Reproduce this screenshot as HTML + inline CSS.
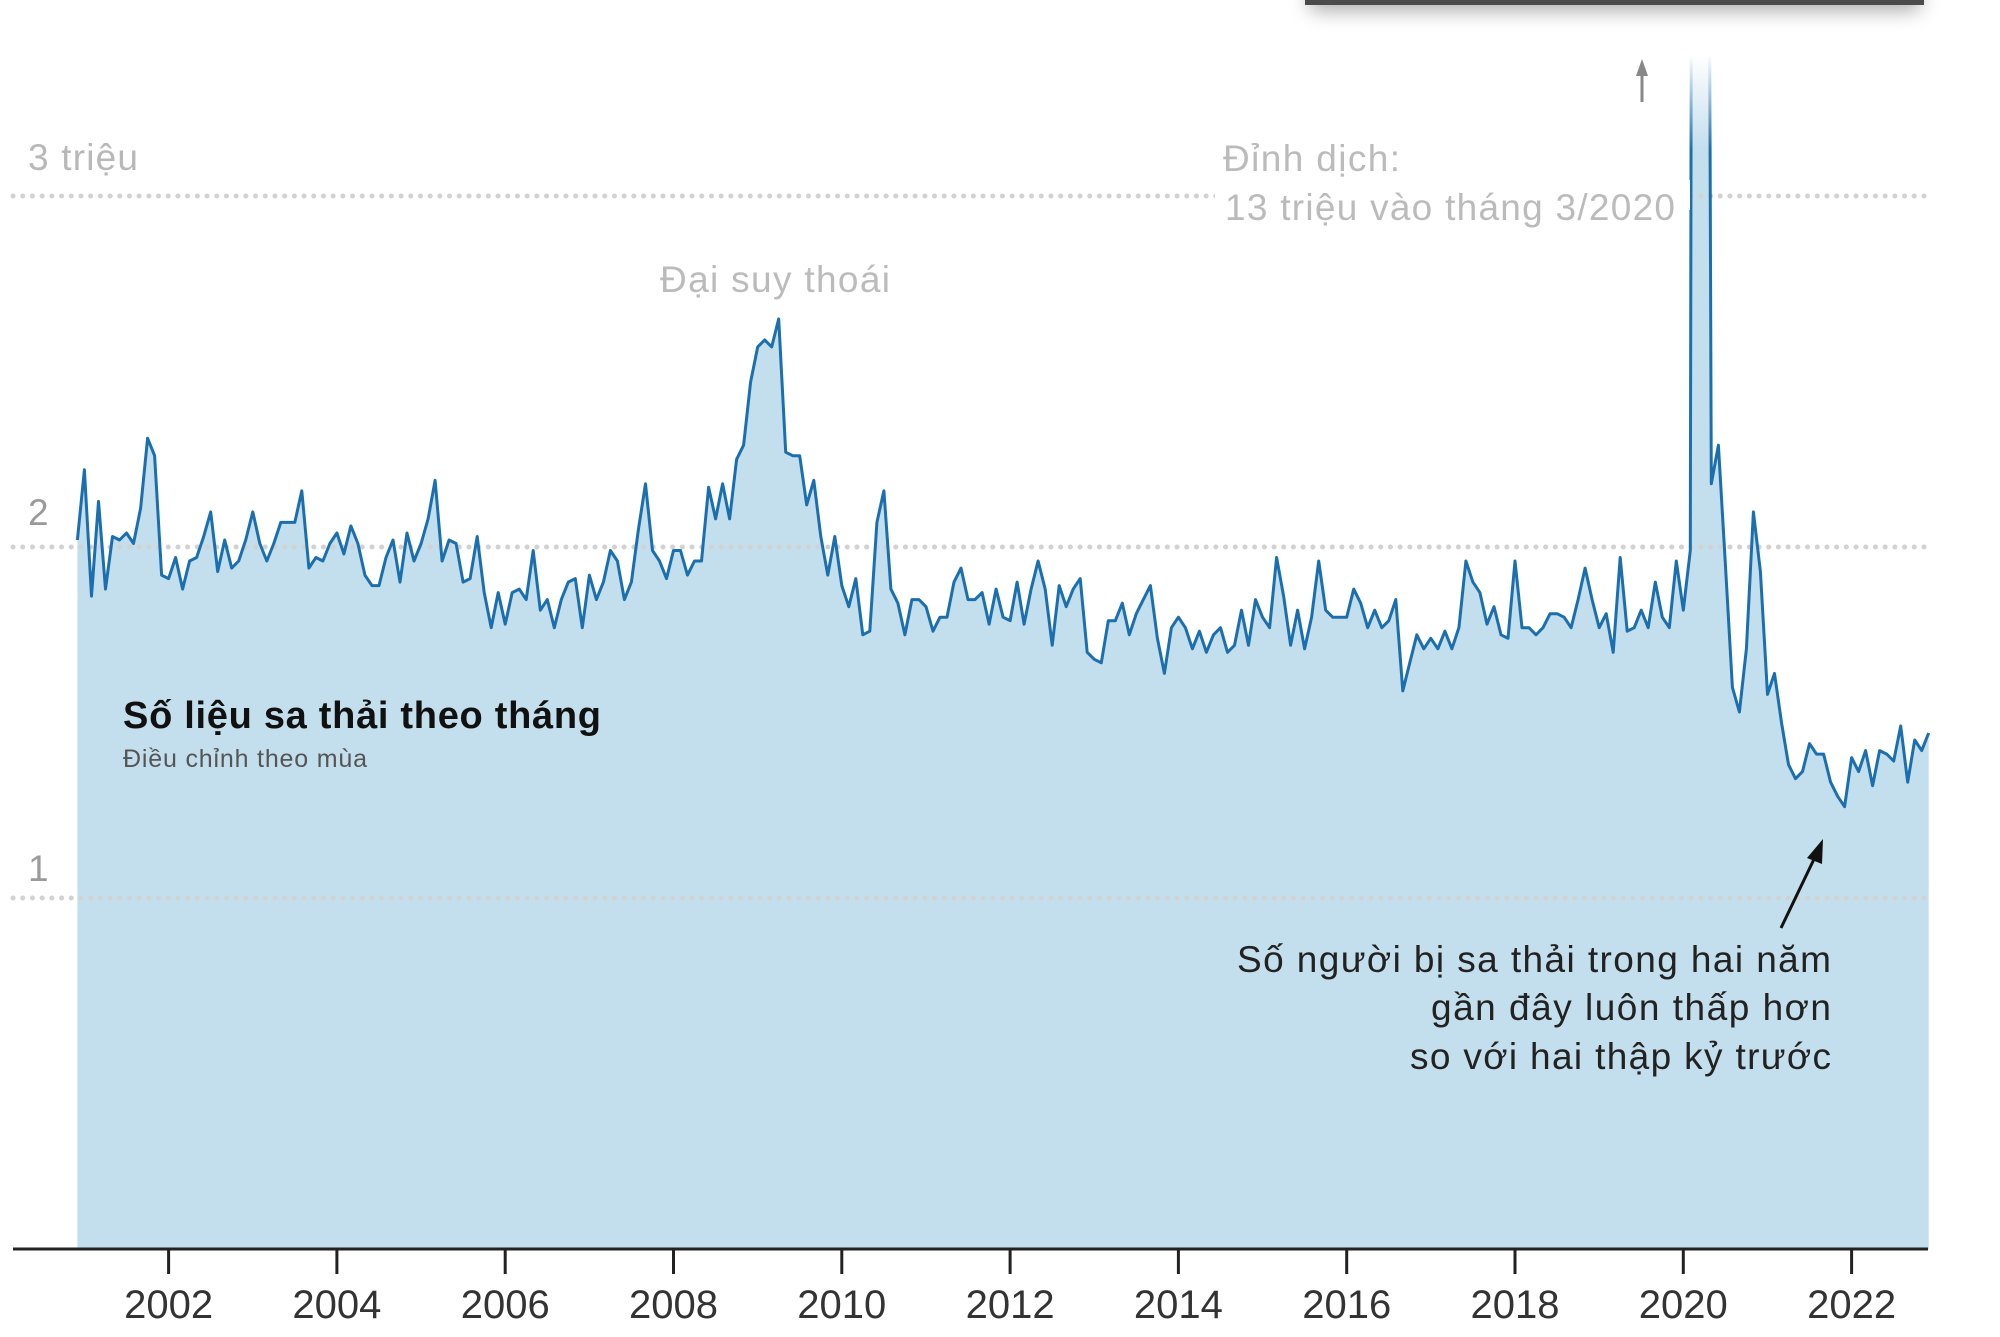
<!DOCTYPE html>
<html><head><meta charset="utf-8"><style>
html,body{margin:0;padding:0;background:#fff;}
svg{display:block;font-family:"Liberation Sans","Noto Sans CJK SC",sans-serif;}
</style></head><body>
<svg id="chart" width="2000" height="1337" viewBox="0 0 2000 1337" xmlns="http://www.w3.org/2000/svg">
<defs>
<filter id="sh" x="-10%" y="-100%" width="120%" height="400%"><feGaussianBlur stdDeviation="10"/></filter>
<clipPath id="clipTop"><rect x="0" y="55" width="2000" height="1300"/></clipPath>
<linearGradient id="fade" x1="0" y1="0" x2="0" y2="1">
<stop offset="0" stop-color="#fff" stop-opacity="1"/><stop offset="1" stop-color="#fff" stop-opacity="0"/>
</linearGradient>
</defs>
<rect x="1310" y="-20" width="610" height="30" fill="#000" opacity="0.35" filter="url(#sh)"/>
<rect x="1305" y="0" width="619" height="5" fill="#4a4a4a"/>
<g id="area-layer"></g>
<g id="grid-layer"></g>
<g id="line-layer"></g>
<rect x="1680" y="55" width="40" height="95" fill="url(#fade)"/>
<g id="axis-layer"></g>
<text x="28" y="170" font-size="37" fill="#b8b8b8" textLength="110">3 triệu</text>
<text x="28" y="525" font-size="37" fill="#9a9a9a">2</text>
<text x="28" y="881" font-size="37" fill="#9a9a9a">1</text>
<rect x="1215" y="180" width="475" height="30" fill="#fff"/>
<text x="1223" y="171" font-size="37" fill="#bbb" textLength="177">Đỉnh dịch:</text>
<text x="1225" y="220" font-size="37" fill="#bbb" textLength="450">13 triệu vào tháng 3/2020</text>
<line x1="1642" y1="102" x2="1642" y2="70" stroke="#888" stroke-width="3"/>
<polygon points="1642,59 1636,76 1648,76" fill="#888"/>
<text x="660" y="292" font-size="37" fill="#bbb" textLength="230">Đại suy thoái</text>
<text x="123" y="728" font-size="38" font-weight="bold" fill="#111" textLength="478">Số liệu sa thải theo tháng</text>
<text x="123" y="767" font-size="25" fill="#555" textLength="244">Điều chỉnh theo mùa</text>
<text x="1831" y="972" font-size="37" fill="#222" text-anchor="end" textLength="594">Số người bị sa thải trong hai năm</text>
<text x="1831" y="1020" font-size="37" fill="#222" text-anchor="end" textLength="400">gần đây luôn thấp hơn</text>
<text x="1831" y="1069" font-size="37" fill="#222" text-anchor="end" textLength="421">so với hai thập kỷ trước</text>
<line x1="1781" y1="928" x2="1816" y2="855" stroke="#111" stroke-width="3"/>
<polygon points="1823,839 1807,858 1822,864" fill="#111"/>
</svg>
<script>
// Monthly layoffs (millions), starting Dec 2000
const startYear = 2000;
const startMonth = 11; // December (0-based)
const values = [
2.02,2.22,1.86,2.13,1.88,2.03,2.02,2.04,2.01,2.11,2.31,2.26,1.92,1.91,1.97,1.88,1.96,1.97,2.03,2.10,
1.93,2.02,1.94,1.96,2.02,2.10,2.01,1.96,2.01,2.07,2.07,2.07,2.16,1.94,1.97,1.96,2.01,2.04,1.98,2.06,
2.01,1.92,1.89,1.89,1.97,2.02,1.90,2.04,1.96,2.01,2.08,2.19,1.96,2.02,2.01,1.90,1.91,2.03,1.87,1.77,
1.87,1.78,1.87,1.88,1.85,1.99,1.82,1.85,1.77,1.85,1.90,1.91,1.77,1.92,1.85,1.90,1.99,1.96,1.85,1.90,
2.05,2.18,1.99,1.96,1.91,1.99,1.99,1.92,1.96,1.96,2.17,2.08,2.18,2.08,2.25,2.29,2.47,2.57,2.59,2.57,
2.65,2.27,2.26,2.26,2.12,2.19,2.03,1.92,2.03,1.89,1.83,1.91,1.75,1.76,2.07,2.16,1.88,1.84,1.75,1.85,
1.85,1.83,1.76,1.80,1.80,1.90,1.94,1.85,1.85,1.87,1.78,1.88,1.80,1.79,1.90,1.78,1.88,1.96,1.88,1.72,
1.89,1.83,1.88,1.91,1.70,1.68,1.67,1.79,1.79,1.84,1.75,1.81,1.85,1.89,1.74,1.64,1.77,1.80,1.77,1.71,
1.76,1.70,1.75,1.77,1.70,1.72,1.82,1.72,1.85,1.80,1.77,1.97,1.86,1.72,1.82,1.71,1.80,1.96,1.82,1.80,
1.80,1.80,1.88,1.84,1.77,1.82,1.77,1.79,1.85,1.59,1.67,1.75,1.71,1.74,1.71,1.76,1.71,1.77,1.96,1.90,
1.87,1.78,1.83,1.75,1.74,1.96,1.77,1.77,1.75,1.77,1.81,1.81,1.80,1.77,1.85,1.94,1.85,1.77,1.81,1.70,
1.97,1.76,1.77,1.82,1.77,1.90,1.80,1.77,1.96,1.82,1.99,
13.0,7.7,2.18,2.29,1.95,1.60,1.53,1.71,2.10,1.93,
1.58,1.64,1.50,1.38,1.34,1.36,1.44,1.41,1.41,1.33,1.29,1.26,
1.40,1.36,1.42,1.32,1.42,1.41,1.39,1.49,1.33,1.45,1.42,1.47
];
const tickYears = [2002,2004,2006,2008,2010,2012,2014,2016,2018,2020,2022];
const gridValues = [1,2,3];

const NS = 'http://www.w3.org/2000/svg';
function xOfYear(y){ return 168.6 + (y - 2002) * 84.15; }
function xOfIndex(i){ return xOfYear(startYear + (startMonth + i) / 12); }
function yOf(v){ return 1249 - v * 351; }

const areaLayer = document.getElementById('area-layer');
const gridLayer = document.getElementById('grid-layer');
const lineLayer = document.getElementById('line-layer');
const axisLayer = document.getElementById('axis-layer');

let pts = values.map((v,i)=> xOfIndex(i).toFixed(1)+','+yOf(v).toFixed(1));
const area = document.createElementNS(NS,'polygon');
area.setAttribute('points', xOfIndex(0).toFixed(1)+','+yOf(0)+' '+pts.join(' ')+' '+xOfIndex(values.length-1).toFixed(1)+','+yOf(0));
area.setAttribute('fill','#c3deec');
area.setAttribute('clip-path','url(#clipTop)');


areaLayer.appendChild(area);

gridValues.forEach(g=>{
  const l = document.createElementNS(NS,'line');
  l.setAttribute('x1', 13); l.setAttribute('x2', 1928);
  l.setAttribute('y1', yOf(g)); l.setAttribute('y2', yOf(g));
  l.setAttribute('stroke', '#d2d2d2');
  l.setAttribute('stroke-width', 5);
  l.setAttribute('stroke-linecap', 'round');
  l.setAttribute('stroke-dasharray', '0.1 9.6');
  
  
  gridLayer.appendChild(l);
});

const line = document.createElementNS(NS,'polyline');
line.setAttribute('points', pts.join(' '));
line.setAttribute('fill','none');
line.setAttribute('stroke','#1c6fae');
line.setAttribute('stroke-width','3');
line.setAttribute('stroke-linejoin','round');
line.setAttribute('clip-path','url(#clipTop)');


lineLayer.appendChild(line);

const axis = document.createElementNS(NS,'line');
axis.setAttribute('x1',13); axis.setAttribute('x2',1928);
axis.setAttribute('y1',1249); axis.setAttribute('y2',1249);
axis.setAttribute('stroke','#222'); axis.setAttribute('stroke-width','3');


axisLayer.appendChild(axis);

tickYears.forEach(yr=>{
  const x = xOfYear(yr);
  const t = document.createElementNS(NS,'line');
  t.setAttribute('x1',x); t.setAttribute('x2',x);
  t.setAttribute('y1',1249); t.setAttribute('y2',1274);
  t.setAttribute('stroke','#222'); t.setAttribute('stroke-width','3');
  
  
  axisLayer.appendChild(t);
  const lb = document.createElementNS(NS,'text');
  lb.setAttribute('x',x); lb.setAttribute('y',1318);
  lb.setAttribute('text-anchor','middle');
  lb.setAttribute('font-size','40');
  lb.setAttribute('fill','#333');
  lb.textContent = yr;
  
  
  axisLayer.appendChild(lb);
});
</script>
</body></html>
